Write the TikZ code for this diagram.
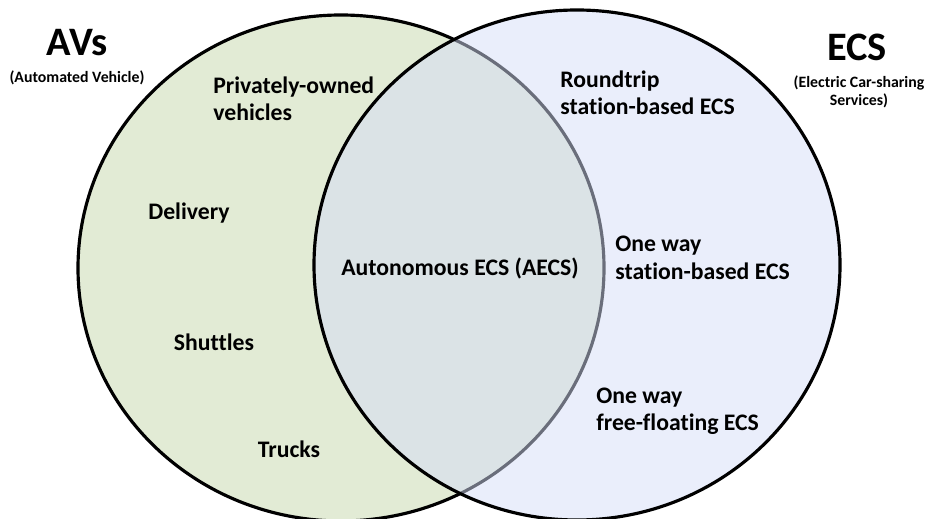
\documentclass[tikz,border=0pt]{standalone}
\usepackage{fontspec}
\setmainfont[Ligatures={NoCommon}]{Carlito}
\usetikzlibrary{positioning}

\definecolor{avfill}{RGB}{226,235,213}
\definecolor{ecsfill}{RGB}{213,221,247}

\tikzset{
  setlabel/.style={font=\bfseries\fontsize{13.5}{15.6}\selectfont, align=left, inner sep=0pt},
  bigtitle/.style={font=\bfseries\fontsize{23}{26}\selectfont, inner sep=0pt},
  subtitle/.style={font=\bfseries\fontsize{9}{10.5}\selectfont, align=center, inner sep=0pt}
}

\begin{document}
\begin{tikzpicture}[x=0.02cm,y=0.02cm]
\useasboundingbox (0,0) rectangle (926,518);

% the two sets
\filldraw[draw=black, line width=1.8pt, fill=avfill] (341,250) ellipse [x radius=263, y radius=253];
\filldraw[draw=black, line width=1.8pt, fill=ecsfill, fill opacity=0.5] (577,253) ellipse [x radius=263, y radius=255];

% titles
\node[bigtitle] (avs) at (77,475) {AVs};
\node[subtitle] (avsub) at (77,440) {(Automated Vehicle)};
\node[bigtitle] (ecs) at (857,471) {ECS};
\node[subtitle] (ecssub) at (859,426) {(Electric Car-sharing\\Services)};

% AV only
\node[setlabel, anchor=west] (private) at (213,419) {Privately-owned\\vehicles};
\node[setlabel] (delivery) at (189,305) {Delivery};
\node[setlabel] (shuttles) at (214,176) {Shuttles};
\node[setlabel] (trucks) at (289,69) {Trucks};

% both
\node[setlabel] (aecs) at (460,250) {Autonomous ECS (AECS)};

% ECS only
\node[setlabel, anchor=west] (roundtrip) at (560,425) {Roundtrip\\station-based ECS};
\node[setlabel, anchor=west] (onewaysb) at (615,260) {One way\\station-based ECS};
\node[setlabel, anchor=west] (onewayff) at (596,107) {One way\\free-floating ECS};
\end{tikzpicture}
\end{document}
